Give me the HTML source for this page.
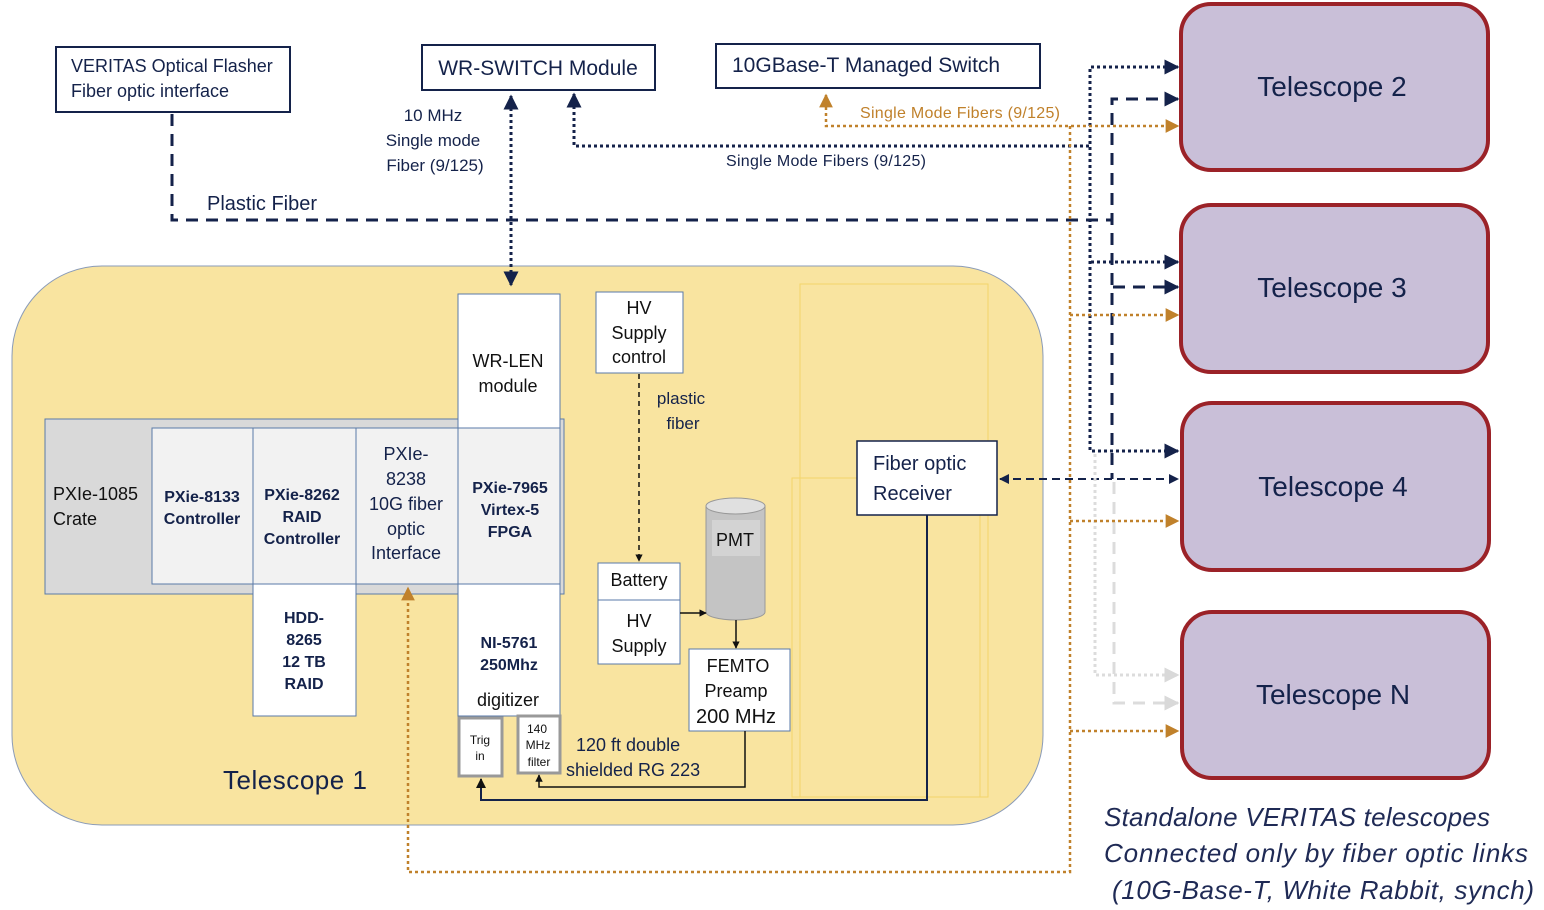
<!DOCTYPE html>
<html><head><meta charset="utf-8"><style>
html,body{margin:0;padding:0;background:#fff;}
svg{display:block;font-family:"Liberation Sans",sans-serif;}
</style></head><body>
<svg width="1544" height="910" viewBox="0 0 1544 910" xmlns="http://www.w3.org/2000/svg">
<defs>
<marker id="an" viewBox="0 0 10 10" refX="9" refY="5" markerWidth="5" markerHeight="5" orient="auto-start-reverse"><path d="M0,0L10,5L0,10z" fill="#14224a"/></marker>
<marker id="ao" viewBox="0 0 10 10" refX="9" refY="5" markerWidth="5.5" markerHeight="5.5" orient="auto-start-reverse"><path d="M0,0L10,5L0,10z" fill="#c0812b"/></marker>
<marker id="ag" viewBox="0 0 10 10" refX="9" refY="5" markerWidth="5" markerHeight="5" orient="auto"><path d="M0,0L10,5L0,10z" fill="#d9d9d9"/></marker>
<marker id="ab" viewBox="0 0 10 10" refX="9" refY="5" markerWidth="5" markerHeight="5" orient="auto"><path d="M0,0L10,5L0,10z" fill="#111"/></marker>
</defs>
<g font-size="20" fill="#14224a">
<rect x="56" y="47" width="234" height="65" fill="#fff" stroke="#14224a" stroke-width="2"/>
<text x="71" y="72" font-size="18">VERITAS Optical Flasher</text>
<text x="71" y="97" font-size="18">Fiber optic interface</text>
<rect x="422" y="45" width="233" height="45" fill="#fff" stroke="#14224a" stroke-width="2"/>
<text x="538" y="75" text-anchor="middle" font-size="21">WR-SWITCH Module</text>
<rect x="716" y="44" width="324" height="44" fill="#fff" stroke="#14224a" stroke-width="2"/>
<text x="732" y="72" font-size="21">10GBase-T Managed Switch</text>
<text x="433" y="121" text-anchor="middle" font-size="17">10 MHz</text>
<text x="433" y="146" text-anchor="middle" font-size="17">Single mode</text>
<text x="435" y="171" text-anchor="middle" font-size="17">Fiber (9/125)</text>
<text x="207" y="210" font-size="20">Plastic Fiber</text>
<text x="860" y="118" font-size="16" fill="#c0812b" textLength="200">Single Mode Fibers (9/125)</text>
<text x="726" y="166" font-size="16" textLength="200">Single Mode Fibers (9/125)</text>

<g fill="#c9bfd8" stroke="#9b2228" stroke-width="4">
<rect x="1181" y="4" width="307" height="166" rx="30"/>
<rect x="1181" y="205" width="307" height="167" rx="30"/>
<rect x="1182" y="403" width="307" height="167" rx="30"/>
<rect x="1182" y="612" width="307" height="166" rx="30"/>
</g>
<text x="1332" y="96" text-anchor="middle" font-size="28">Telescope 2</text>
<text x="1332" y="297" text-anchor="middle" font-size="28">Telescope 3</text>
<text x="1333" y="496" text-anchor="middle" font-size="28">Telescope 4</text>
<text x="1333" y="704" text-anchor="middle" font-size="28">Telescope N</text>
<g font-style="italic" font-size="26" fill="#1f2a55">
<text x="1104" y="826" textLength="386">Standalone VERITAS telescopes</text>
<text x="1104" y="862" textLength="424">Connected only by fiber optic links</text>
<text x="1112" y="899" textLength="422">(10G-Base-T, White Rabbit, synch)</text>
</g>

<rect x="12" y="266" width="1031" height="559" rx="90" fill="#f9e4a0" stroke="#8a9bb8" stroke-width="1"/>
<rect x="800" y="284" width="188" height="513" fill="none" stroke="#f3d56a" stroke-width="1"/>
<rect x="792" y="478" width="188" height="319" fill="none" stroke="#f3d56a" stroke-width="1"/>
<text x="223" y="789" font-size="26" textLength="144">Telescope 1</text>

<rect x="45" y="419" width="519" height="175" fill="#d9d9d9" stroke="#5a7aa8" stroke-width="1"/>
<text x="53" y="500" font-size="18" fill="#111">PXIe-1085</text>
<text x="53" y="525" font-size="18" fill="#111">Crate</text>
<g fill="#f2f2f2" stroke="#5a7aa8" stroke-width="1">
<rect x="152" y="428" width="101" height="156"/>
<rect x="253" y="428" width="103" height="156"/>
<rect x="356" y="428" width="102" height="156"/>
<rect x="458" y="428" width="102" height="156"/>
</g>
<g fill="#fff" stroke="#5a7aa8" stroke-width="1">
<rect x="458" y="294" width="102" height="134"/>
<rect x="458" y="584" width="102" height="132"/>
<rect x="253" y="584" width="103" height="132"/>
<rect x="596" y="292" width="87" height="81"/>
<rect x="598" y="563" width="82" height="37"/>
<rect x="598" y="600" width="82" height="64"/>
<rect x="689" y="649" width="101" height="82"/>
<rect x="857" y="441" width="140" height="74" stroke="#14224a" stroke-width="1.5"/>
</g>
<g fill="#fff" stroke="#999" stroke-width="3">
<rect x="459" y="718" width="43" height="58"/>
<rect x="518" y="716" width="42" height="57"/>
</g>
<g font-size="16" font-weight="bold" text-anchor="middle">
<text x="202" y="502">PXie-8133</text><text x="202" y="524">Controller</text>
<text x="302" y="500">PXie-8262</text><text x="302" y="522">RAID</text><text x="302" y="544">Controller</text>
<text x="510" y="493">PXie-7965</text><text x="510" y="515">Virtex-5</text><text x="510" y="537">FPGA</text>
<text x="304" y="623">HDD-</text><text x="304" y="645">8265</text><text x="304" y="667">12 TB</text><text x="304" y="689">RAID</text>
<text x="509" y="648">NI-5761</text><text x="509" y="670">250Mhz</text>
</g>
<g font-size="18" text-anchor="middle" fill="#14224a">
<text x="406" y="460">PXIe-</text><text x="406" y="485">8238</text><text x="406" y="510">10G fiber</text><text x="406" y="535">optic</text><text x="406" y="559">Interface</text>
</g>
<g font-size="18" text-anchor="middle" fill="#111">
<text x="508" y="367">WR-LEN</text><text x="508" y="392">module</text>
<text x="508" y="706">digitizer</text>
<text x="639" y="314">HV</text><text x="639" y="339">Supply</text><text x="639" y="363">control</text>
<text x="639" y="586">Battery</text>
<text x="639" y="627">HV</text><text x="639" y="652">Supply</text>
<text x="738" y="672">FEMTO</text><text x="736" y="697">Preamp</text><text x="736" y="723" font-size="20">200 MHz</text>
</g>
<g font-size="17" text-anchor="middle" fill="#14224a">
<text x="681" y="404">plastic</text><text x="683" y="429">fiber</text>
</g>
<text x="873" y="470" font-size="20">Fiber optic</text>
<text x="873" y="500" font-size="20">Receiver</text>
<g font-size="12" text-anchor="middle" fill="#111">
<text x="480" y="744">Trig</text><text x="480" y="760">in</text>
<text x="537" y="733">140</text><text x="538" y="749">MHz</text><text x="539" y="766">filter</text>
</g>
<text x="576" y="751" font-size="18">120 ft double</text>
<text x="566" y="776" font-size="18">shielded RG 223</text>

<path d="M706,506 L706,612 A29.5,8 0 0 0 765,612 L765,506 Z" fill="#c4c4c4" stroke="#999"/>
<ellipse cx="735.5" cy="506" rx="29.5" ry="8" fill="#e0e0e0" stroke="#999"/>
<rect x="712" y="520" width="48" height="36" fill="#d3d3d3"/>
<text x="735" y="546" text-anchor="middle" font-size="18" fill="#111">PMT</text>
</g>

<g fill="none" stroke-width="3">
<path d="M172,114 V220 H1113" stroke="#14224a" stroke-dasharray="12,8"/>
<path d="M1178,99 H1112 V479" stroke="#14224a" stroke-dasharray="12,8" marker-start="url(#an)"/>
<path d="M1113,287 H1178" stroke="#14224a" stroke-dasharray="12,8" marker-end="url(#an)"/>
<path d="M1000,479 H1178" stroke="#14224a" stroke-width="2" stroke-dasharray="8,5" marker-start="url(#an)" marker-end="url(#an)"/>
<path d="M1114,482 V703 H1178" stroke="#dcdcdc" stroke-dasharray="12,8" marker-end="url(#ag)"/>
<path d="M574,94 V146 H1092" stroke="#14224a" stroke-dasharray="3,3" marker-start="url(#an)"/>
<path d="M1178,67 H1090 V451 H1178" stroke="#14224a" stroke-dasharray="3,3" marker-start="url(#an)" marker-end="url(#an)"/>
<path d="M1091,262 H1178" stroke="#14224a" stroke-dasharray="3,3" marker-end="url(#an)"/>
<path d="M1095,454 V675 H1178" stroke="#dcdcdc" stroke-dasharray="3,3" marker-end="url(#ag)"/>
<path d="M511,96 V285" stroke="#14224a" stroke-dasharray="3,3" marker-start="url(#an)" marker-end="url(#an)"/>
<path d="M826,95 V126 H1178" stroke="#c0812b" stroke-width="2.5" stroke-dasharray="3,3" marker-start="url(#ao)" marker-end="url(#ao)"/>
<path d="M1070,126 V872 H408 V588" stroke="#c0812b" stroke-width="2.5" stroke-dasharray="3,3" marker-end="url(#ao)"/>
<path d="M1070,315 H1178" stroke="#c0812b" stroke-width="2.5" stroke-dasharray="3,3" marker-end="url(#ao)"/>
<path d="M1070,521 H1178" stroke="#c0812b" stroke-width="2.5" stroke-dasharray="3,3" marker-end="url(#ao)"/>
<path d="M1070,731 H1178" stroke="#c0812b" stroke-width="2.5" stroke-dasharray="3,3" marker-end="url(#ao)"/>
<path d="M639,374 V561" stroke="#111" stroke-width="1.5" stroke-dasharray="5,4" marker-end="url(#ab)"/>
<path d="M927,515 V800 H481 V779" stroke="#14224a" stroke-width="2" marker-end="url(#ab)"/>
<path d="M745,731 V787 H539 V775" stroke="#111" stroke-width="1.5" marker-end="url(#ab)"/>
<path d="M680,613 H706" stroke="#111" stroke-width="1.5" marker-end="url(#ab)"/>
<path d="M736,620 V648" stroke="#111" stroke-width="1.5" marker-end="url(#ab)"/>
</g>
</svg>
</body></html>
